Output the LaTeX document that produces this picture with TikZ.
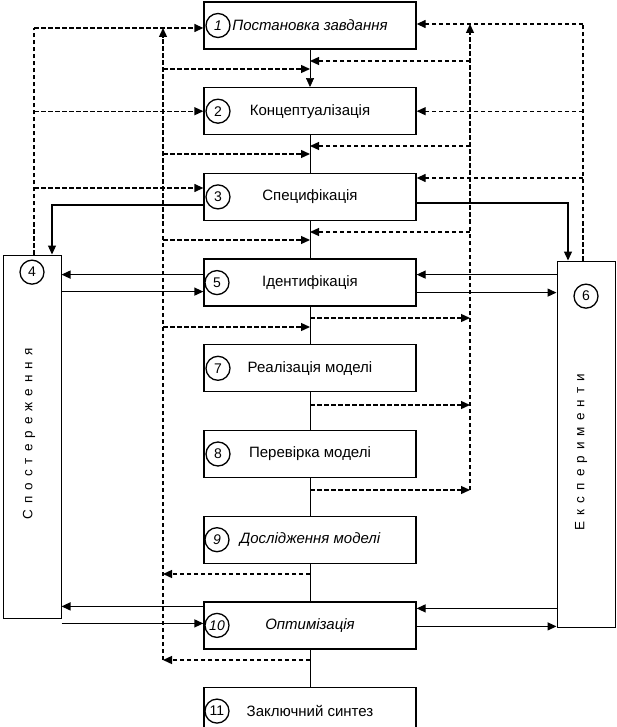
\documentclass[tikz,border=0pt]{standalone}
\usepackage{fontspec}
\setmainfont{Liberation Sans}
\newfontfamily\spacedfont[LetterSpace=45]{Liberation Sans}
\usetikzlibrary{arrows.meta, positioning, calc}
\tikzset{
    stage/.style={draw, line width=1.3pt, minimum width=212pt, minimum height=47pt,
      inner sep=0pt, font=\fontsize{15}{17}\selectfont},
    num/.style={draw, circle, line width=1.3pt, minimum size=24pt, inner sep=0pt,
      font=\fontsize{14}{16}\selectfont},
    side/.style={draw, line width=1pt, minimum width=58pt, inner sep=0pt},
    vtext/.style={rotate=90, font=\spacedfont\fontsize{13.5}{15}\selectfont},
    fb/.style={dash pattern=on 4.5pt off 2.5pt, line width=1.3pt},
    link/.style={line width=1.3pt},
    spine/.style={line width=0.7pt},
}

\begin{document}
\begin{tikzpicture}[x=1pt, y=-1pt, node distance=37.4pt,
    >={Triangle[length=9pt, width=8pt]}]
    \useasboundingbox (0,0) rectangle (617,727);

    % stages
    \node[stage] (b1) at (310,25.5) {\itshape Постановка завдання};
    \node[stage, below=of b1] (b2) {Концептуалізація};
    \node[stage, below=of b2] (b3) {Специфікація};
    \node[stage, below=of b3] (b5) {Ідентифікація};
    \node[stage, below=of b5] (b7) {Реалізація моделі};
    \node[stage, below=of b7] (b8) {Перевірка моделі};
    \node[stage, below=of b8] (b9) {\itshape Дослідження моделі};
    \node[stage, below=of b9] (b10) {\itshape Оптимізація};
    \node[stage, below=of b10] (b11) {Заключний синтез};

    \node[num, right=2pt of b1.west] (n1) {\itshape 1};
    \node[num, right=2pt of b2.west] (n2) {2};
    \node[num, right=2pt of b3.west] (n3) {3};
    \node[num, right=1pt of b5.west] (n5) {5};
    \node[num, right=2pt of b7.west] (n7) {7};
    \node[num, right=2pt of b8.west] (n8) {8};
    \node[num, right=1pt of b9.west] (n9) {\itshape 9};
    \node[num, right=1pt of b10.west] (n10) {\itshape 10};
    \node[num, right=1pt of b11.west] (n11) {11};

    % observation and experiments
    \node[side, minimum height=363pt] (obs) at (32,436.5) {};
    \node[num, below=5pt of obs.north] (n4) {4};
    \node[vtext] (obsT) at (29,434) {Спостереження};
    \node[side, minimum height=366pt] (exp) at (586,444) {};
    \node[num, below=23pt of exp.north] (n6) {6};
    \node[vtext] (expT) at (581,452) {Експерименти};

    % spine
    \draw[spine, ->] (b1) -- (b2);
    \foreach \a/\b in {b2/b3, b3/b5, b5/b7, b7/b8, b8/b9, b9/b10, b10/b11}
      \draw[spine] (\a) -- (\b);

    % rails
    \coordinate (oL) at (34,28);
    \coordinate (iL) at (163,28);
    \coordinate (iLb) at (163,660);
    \coordinate (iR) at (470,24);
    \coordinate (iRb) at (470,490);
    \coordinate (oR) at (583,24);
    \coordinate (l3) at (34,188);
    \coordinate (r3) at (583,178);

    % outer dashed feedback
    \draw[fb] (obs.north -| oL) -- (oL);
    \draw[fb, ->] (oL) -- (oL -| b1.west);
    \draw[fb, ->] (b2.west -| oL) -- (b2.west);
    \draw[fb, ->] (l3) -- (l3 -| b3.west);
    \draw[fb] (exp.north -| oR) -- (oR);
    \draw[fb, ->] (oR) -- (oR -| b1.east);
    \draw[fb, ->] (b2.east -| oR) -- (b2.east);
    \draw[fb, ->] (r3) -- (r3 -| b3.east);

    % inner dashed feedback
    \draw[fb, ->] (iLb) -- (iL);
    \foreach \y [count=\i] in {69,154,240,327} {
      \coordinate (il\i) at (163,\y);
      \draw[fb, ->] (il\i) -- (il\i -| b1.south);
    }
    \coordinate (il5) at (163,574);
    \draw[fb, ->] (il5 -| b9.south) -- (il5);
    \draw[fb, ->] (iLb -| b10.south) -- (iLb);

    \draw[fb, ->] (iRb) -- (iR);
    \foreach \y [count=\i] in {61,146,232} {
      \coordinate (ir\i) at (470,\y);
      \draw[fb, ->] (ir\i) -- (ir\i -| b1.south);
    }
    \foreach \y [count=\i] in {318,405} {
      \coordinate (io\i) at (470,\y);
      \draw[fb, ->] (io\i -| b1.south) -- (io\i);
    }
    \draw[fb, ->] (iRb -| b1.south) -- (iRb);

    % specification to the sides
    \coordinate (s3l) at ($(b3.west)+(0,8)$);
    \coordinate (s3r) at ($(b3.east)+(0,6)$);
    \coordinate (o4) at ($(obs.north)+(20,0)$);
    \coordinate (e6) at ($(exp.north)+(-18,0)$);
    \draw[link, ->] (s3l) -| (o4);
    \draw[link, ->] (s3r) -| (e6);

    % identification and optimisation with the sides
    \coordinate (p5a) at ($(b5.west)+(0,-8)$);
    \coordinate (p5b) at ($(b5.west)+(0,9)$);
    \coordinate (q5a) at ($(b5.east)+(0,-8)$);
    \coordinate (q5b) at ($(b5.east)+(0,10)$);
    \draw[link, ->] (p5a) -- (p5a -| obs.east);
    \draw[link, ->] (p5b -| obs.east) -- (p5b);
    \draw[link, ->] (q5a -| exp.west) -- (q5a);
    \draw[link, ->] (q5b) -- (q5b -| exp.west);

    \coordinate (p10a) at ($(b10.west)+(0,-19)$);
    \coordinate (p10b) at ($(b10.west)+(0,-2)$);
    \coordinate (q10a) at ($(b10.east)+(0,-17)$);
    \coordinate (q10b) at ($(b10.east)+(0,1)$);
    \draw[link, ->] (p10a) -- (p10a -| obs.east);
    \draw[link, ->] (p10b -| obs.east) -- (p10b);
    \draw[link, ->] (q10a -| exp.west) -- (q10a);
    \draw[link, ->] (q10b) -- (q10b -| exp.west);
\end{tikzpicture}
\end{document}
